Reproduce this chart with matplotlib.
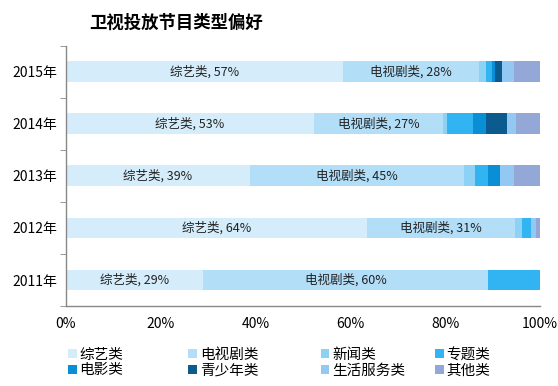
import numpy as np
import matplotlib
matplotlib.use('Agg')
import matplotlib.pyplot as plt
from matplotlib.patches import Patch

plt.rcParams['font.family'] = ['Noto Sans CJK SC', 'DejaVu Sans']

# ---------------------------------------------------------------------- #
# Data (share of airtime, %; bars are 100% stacked)
# ---------------------------------------------------------------------- #
years = ['2011年', '2012年', '2013年', '2014年', '2015年']
categories = ['综艺类', '电视剧类', '新闻类', '专题类',
              '电影类', '青少年类', '生活服务类', '其他类']

variety = [28.9, 63.6, 38.8, 52.3, 58.4]
drama = [60.1, 31.0, 45.3, 27.3, 28.8]
news = [0.0, 1.5, 2.3, 0.7, 1.5]
feature = [11.0, 1.9, 2.6, 5.5, 1.3]
movie = [0.0, 0.0, 2.6, 2.8, 0.6]
youth = [0.0, 0.0, 0.0, 4.4, 1.5]
life = [0.0, 1.2, 3.0, 1.9, 2.5]
other = [0.0, 0.8, 5.5, 5.1, 5.5]

# numbers printed in the data labels
variety_label = [29, 64, 39, 53, 57]
drama_label = [60, 31, 45, 27, 28]

colors = ['#D5EDFB', '#B2DEF8', '#8DD1F5', '#33B4F2',
          '#0A8ED6', '#0B5B8E', '#92C8F2', '#94A8D8']

series = [variety, drama, news, feature, movie, youth, life, other]

# ---------------------------------------------------------------------- #
# Plot
# ---------------------------------------------------------------------- #
fig = plt.figure(figsize=(5.58, 3.86), dpi=100)
ax = fig.add_axes([0.118, 0.207, 0.85, 0.675])

data = np.array(series, dtype=float)
data = data / data.sum(axis=0) * 100
y = np.arange(len(years))
left = np.zeros(len(years))
for vals, c in zip(data, colors):
    ax.barh(y, vals, left=left, height=0.4, color=c, linewidth=0)
    left += vals

# data labels on the two biggest segments
for i in range(len(years)):
    ax.text(data[0][i] / 2, y[i], f'综艺类, {variety_label[i]}%',
            ha='center', va='center', fontsize=9, color='#222222')
    ax.text(data[0][i] + data[1][i] / 2, y[i], f'电视剧类, {drama_label[i]}%',
            ha='center', va='center', fontsize=9, color='#222222')

ax.set_xlim(0, 100)
ax.set_ylim(-0.5, len(years) - 0.5)
ax.set_xticks(np.arange(0, 101, 20))
ax.set_xticklabels([f'{v}%' for v in range(0, 101, 20)])
ax.set_yticks(y)
ax.set_yticklabels(years)
ax.set_yticks(np.arange(-0.5, len(years), 1), minor=True)
ax.tick_params(axis='y', which='major', length=0, labelsize=10, pad=6)
ax.tick_params(axis='y', which='minor', length=4, color='#888888')
ax.tick_params(axis='x', length=0, labelsize=10, pad=8)
ax.tick_params(axis='x', which='minor', length=0)

for s in ['top', 'right']:
    ax.spines[s].set_visible(False)
for s in ['left', 'bottom']:
    ax.spines[s].set_color('#888888')
    ax.spines[s].set_linewidth(1)

fig.text(0.16, 0.94, '卫视投放节目类型偏好', fontsize=12.5,
         fontweight='bold', ha='left', va='center')

# legend: 4 fixed-width columns, two rows
handles = [Patch(facecolor=c, edgecolor='none', label=l)
           for c, l in zip(colors, categories)]
col_x = [0.111, 0.327, 0.564, 0.769]
for j, x0 in enumerate(col_x):
    idx = [j, j + 4]
    fig.legend([handles[k] for k in idx], [categories[k] for k in idx],
               loc='lower left', bbox_to_anchor=(x0, 0.007),
               frameon=False, fontsize=10.5, handlelength=0.6,
               handleheight=0.6, handletextpad=0.2, labelspacing=0.1,
               borderpad=0.2, borderaxespad=0.2)

fig.savefig('out.png', dpi=100)
